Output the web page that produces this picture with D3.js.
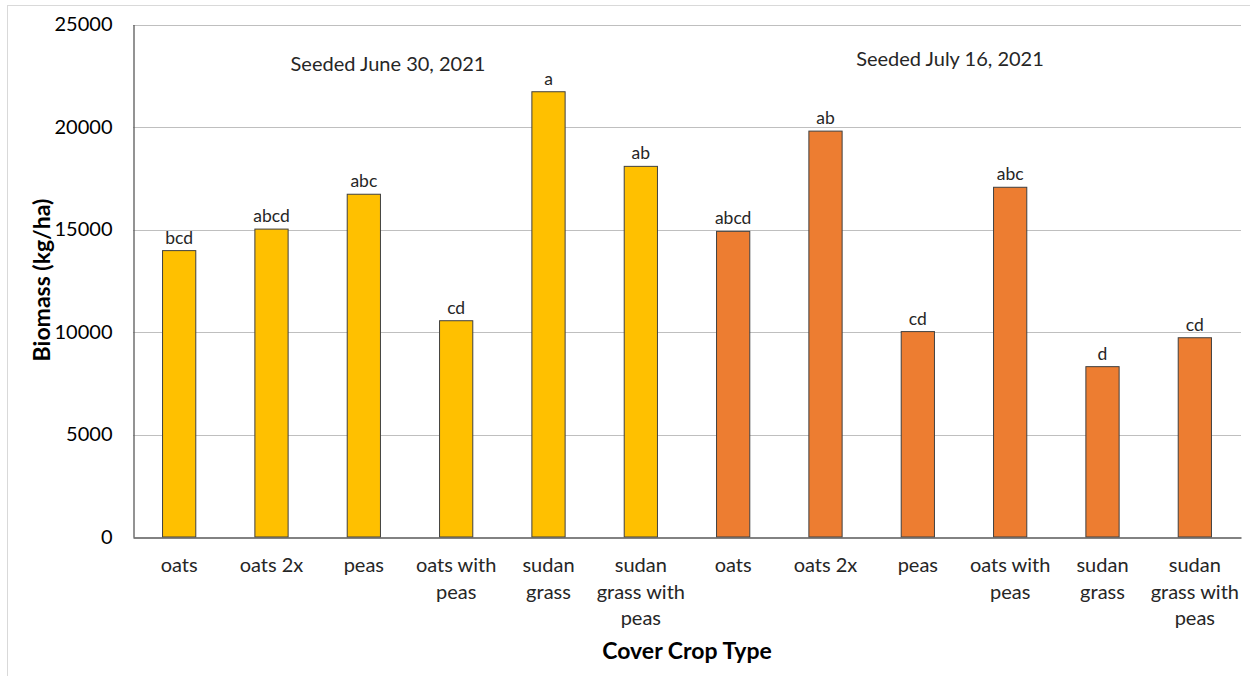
<!DOCTYPE html>
<html>
<head>
<meta charset="utf-8">
<script src="https://cdn.jsdelivr.net/npm/d3@7"></script>
<style>
  html, body { margin: 0; padding: 0; background: #fff; }
  svg { display: block; font-family: Lato, "Open Sans", sans-serif; }
</style>
</head>
<body>
<svg id="chart" width="1250" height="676"></svg>
<script>
// ---- data ----
const categories = [
  "oats", "oats 2x", "peas", "oats with\npeas", "sudan\ngrass", "sudan\ngrass with\npeas",
  "oats", "oats 2x", "peas", "oats with\npeas", "sudan\ngrass", "sudan\ngrass with\npeas"
];
const biomass = [13970, 15020, 16720, 10550, 21720, 18080, 14910, 19800, 10020, 17060, 8310, 9720];
const letters = ["bcd", "abcd", "abc", "cd", "a", "ab", "abcd", "ab", "cd", "abc", "d", "cd"];
const seeding = ["June", "June", "June", "June", "June", "June", "July", "July", "July", "July", "July", "July"];
const groupNotes = ["Seeded June 30, 2021", "Seeded July 16, 2021"];
const yTicks = [0, 5000, 10000, 15000, 20000, 25000];

// ---- layout ----
const W = 1250, H = 676;
const plot = { left: 133, right: 1241, top: 24.5, bottom: 537 };
const svg = d3.select("#chart");

// outer frame
svg.append("rect").attr("x", 7.5).attr("y", 5.5).attr("width", W + 10).attr("height", H + 10)
  .attr("fill", "none").attr("stroke", "#d9d9d9");

const x = d3.scaleBand().domain(d3.range(categories.length))
  .range([plot.left, plot.right]).paddingInner(0.64).paddingOuter(0.32);
const y = d3.scaleLinear().domain([0, 25000]).range([plot.bottom, plot.top]);
const color = d3.scaleOrdinal().domain(["June", "July"]).range(["#FFC000", "#ED7D31"]);

// gridlines
svg.append("g").selectAll("line").data(yTicks.filter(d => d > 0)).join("line")
  .attr("x1", plot.left).attr("x2", plot.right)
  .attr("y1", d => Math.round(y(d)) + 0.5).attr("y2", d => Math.round(y(d)) + 0.5)
  .attr("stroke", "#bfbfbf").attr("stroke-width", 1);

// y axis
const yAxis = svg.append("g").attr("transform", `translate(${plot.left + 0.5},0)`)
  .call(d3.axisLeft(y).tickValues(yTicks).tickSize(0).tickPadding(21).tickFormat(d3.format("d")));
yAxis.select(".domain").attr("stroke", "#595959").attr("stroke-width", 1.3);
yAxis.selectAll("text").attr("font-size", "20px").attr("fill", "#000")
  .attr("font-family", "Lato, sans-serif");

// bars
svg.append("g").selectAll("rect").data(biomass).join("rect")
  .attr("x", (d, i) => x(i)).attr("width", x.bandwidth())
  .attr("y", d => y(d)).attr("height", d => y(0) - y(d))
  .attr("fill", (d, i) => color(seeding[i]))
  .attr("stroke", "#404040").attr("stroke-width", 1);

// x axis
const xAxis = svg.append("g").attr("transform", `translate(0,${plot.bottom + 0.5})`)
  .call(d3.axisBottom(x).tickSize(0).tickFormat(""));
xAxis.select(".domain").attr("stroke", "#595959").attr("stroke-width", 1.3);

// category labels (multi-line)
const catG = svg.append("g").attr("font-size", "20px").attr("fill", "#262626").attr("text-anchor", "middle");
categories.forEach((c, i) => {
  const t = catG.append("text").attr("x", x(i) + x.bandwidth() / 2).attr("y", plot.bottom + 35);
  c.split("\n").forEach((line, j) => {
    t.append("tspan").attr("x", x(i) + x.bandwidth() / 2).attr("dy", j === 0 ? 0 : 26.5).text(line);
  });
});

// significance letters
svg.append("g").selectAll("text").data(letters).join("text")
  .attr("x", (d, i) => x(i) + x.bandwidth() / 2)
  .attr("y", (d, i) => y(biomass[i]) - 7)
  .attr("text-anchor", "middle").attr("font-size", "17.5px").attr("fill", "#262626")
  .text(d => d);

// group notes
svg.append("text").attr("x", 388).attr("y", 71).attr("text-anchor", "middle")
  .attr("font-size", "20px").attr("fill", "#262626").text(groupNotes[0]);
svg.append("text").attr("x", 950).attr("y", 66).attr("text-anchor", "middle")
  .attr("font-size", "20px").attr("fill", "#262626").text(groupNotes[1]);

// axis titles
svg.append("text").attr("x", 687).attr("y", 659).attr("text-anchor", "middle")
  .attr("font-size", "23px").attr("font-weight", "bold").attr("fill", "#000").text("Cover Crop Type");
svg.append("text").attr("transform", `translate(50,280) rotate(-90)`).attr("text-anchor", "middle")
  .attr("font-size", "23px").attr("font-weight", "bold").attr("fill", "#000").text("Biomass (kg/ha)");
</script>
</body>
</html>
